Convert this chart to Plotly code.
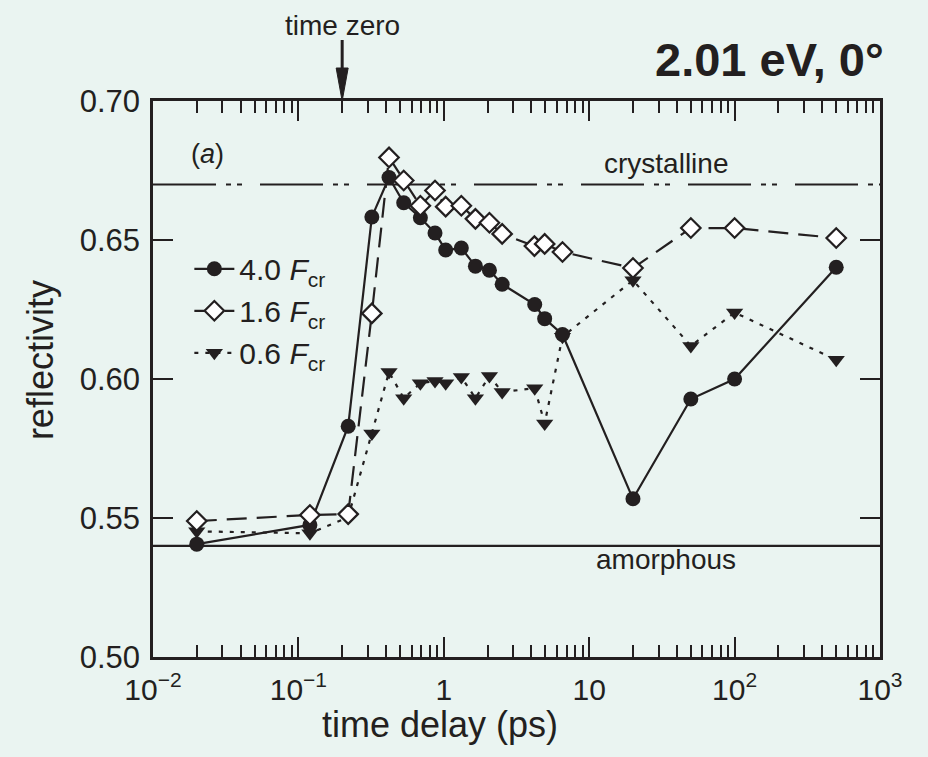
import math
import plotly.graph_objects as go

# ---------------- data ----------------
t_40 = [0.02, 0.12, 0.22, 0.32, 0.42, 0.53, 0.69, 0.87, 1.03, 1.32, 1.65, 2.06, 2.52, 4.22, 4.94, 6.55, 20, 50, 100, 500]
r_40 = [0.5406, 0.5475, 0.583, 0.6583, 0.6725, 0.6634, 0.658, 0.6525, 0.6464, 0.6471, 0.6406, 0.6391, 0.6341, 0.6268, 0.6217, 0.616, 0.5569, 0.5928, 0.600, 0.6402]

t_16 = [0.02, 0.12, 0.22, 0.32, 0.42, 0.53, 0.69, 0.87, 1.03, 1.32, 1.65, 2.06, 2.52, 4.2, 4.94, 6.55, 20, 50, 100, 500]
r_16 = [0.5489, 0.5511, 0.5514, 0.6236, 0.6797, 0.6714, 0.6623, 0.6678, 0.662, 0.6623, 0.6576, 0.6562, 0.6522, 0.6478, 0.6486, 0.6457, 0.6399, 0.6543, 0.6543, 0.6507]

t_06 = [0.02, 0.12, 0.22, 0.32, 0.42, 0.53, 0.69, 0.87, 1.03, 1.32, 1.65, 2.06, 2.52, 4.22, 4.94, 6.55, 20, 50, 100, 500]
r_06 = [0.5452, 0.5445, 0.5503, 0.5804, 0.6025, 0.5931, 0.5985, 0.5993, 0.5985, 0.6007, 0.5931, 0.6011, 0.5953, 0.5967, 0.584, 0.6152, 0.6355, 0.6119, 0.6239, 0.6069]

series_names = ["4.0 <i>F</i><sub>cr</sub>", "1.6 <i>F</i><sub>cr</sub>", "0.6 <i>F</i><sub>cr</sub>"]

R_CRYSTALLINE = 0.67
R_AMORPHOUS = 0.54
TIME_ZERO = 0.2

X_RANGE_LOG = [-2, 3]
x_tickvals = [0.01, 0.1, 1, 10, 100, 1000]
x_ticktext = ["10<sup>\u22122</sup>", "10<sup>\u22121</sup>", "1", "10", "10<sup>2</sup>", "10<sup>3</sup>"]
y_tickvals = [0.50, 0.55, 0.60, 0.65, 0.70]
y_ticktext = ["0.50", "0.55", "0.60", "0.65", "0.70"]

# ---------------- style ----------------
INK = "#231F20"
BG = "#EAF4F1"
FONT = "Liberation Sans, Arial, sans-serif"

fig = go.Figure()

# 0.6 Fcr (drawn first, bottom)
fig.add_trace(go.Scatter(
    x=t_06, y=r_06, name=series_names[2], mode="lines+markers",
    line=dict(color=INK, width=2.2, dash="4px,7px"),
    marker=dict(symbol="triangle-down", size=15, color=INK, line=dict(width=0)),
    legendrank=3, cliponaxis=False,
))
# 4.0 Fcr
fig.add_trace(go.Scatter(
    x=t_40, y=r_40, name=series_names[0], mode="lines+markers",
    line=dict(color=INK, width=2.2),
    marker=dict(symbol="circle", size=15, color=INK, line=dict(width=0)),
    legendrank=1, cliponaxis=False,
))
# 1.6 Fcr
fig.add_trace(go.Scatter(
    x=t_16, y=r_16, name=series_names[1], mode="lines+markers",
    line=dict(color=INK, width=2.2, dash="20px,10px"),
    marker=dict(symbol="diamond", size=15, color="white", line=dict(width=2.2, color=INK)),
    legendrank=2, cliponaxis=False,
))

# reference lines
fig.add_shape(type="line", xref="paper", x0=0, x1=1, yref="y", y0=R_CRYSTALLINE, y1=R_CRYSTALLINE,
              line=dict(color=INK, width=2, dash="63px,10px,5px,6px,5px,18px"), layer="below")
fig.add_shape(type="line", xref="paper", x0=0, x1=1, yref="y", y0=R_AMORPHOUS, y1=R_AMORPHOUS,
              line=dict(color=INK, width=2.2), layer="below")

# time zero arrow (paper x computed from the log axis range)
tz_paper = (math.log10(TIME_ZERO) - X_RANGE_LOG[0]) / (X_RANGE_LOG[1] - X_RANGE_LOG[0])
fig.add_shape(type="line", xref="paper", xsizemode="pixel", xanchor=tz_paper, x0=0, x1=0,
              yref="paper", ysizemode="pixel", yanchor=1, y0=30, y1=61,
              line=dict(color=INK, width=3))
fig.add_shape(type="path", xref="paper", xsizemode="pixel", xanchor=tz_paper,
              yref="paper", ysizemode="pixel", yanchor=1,
              path="M0,0 L-6,33 L6,33 Z", fillcolor=INK, line=dict(color=INK, width=1))

ann = []
ann.append(dict(text="time zero", xref="paper", x=tz_paper, yref="paper", y=1, yshift=76, showarrow=False,
                xanchor="center", yanchor="middle", font=dict(size=28, color=INK, family=FONT)))
ann.append(dict(text="<b>2.01 eV, 0\u00b0</b>", xref="paper", x=1, xshift=6, yref="paper", y=1, yshift=13,
                showarrow=False, xanchor="right", yanchor="bottom", font=dict(size=47, color=INK, family=FONT)))
ann.append(dict(text="(<i>a</i>)", xref="paper", x=0.05, yref="paper", y=0.904, showarrow=False,
                xanchor="left", yanchor="middle", font=dict(size=27, color=INK, family=FONT)))
ann.append(dict(text="crystalline", xref="paper", x=0.705, yref="y", y=R_CRYSTALLINE, yshift=3, showarrow=False,
                xanchor="center", yanchor="bottom", font=dict(size=28, color=INK, family=FONT)))
ann.append(dict(text="amorphous", xref="paper", x=0.705, yref="y", y=R_AMORPHOUS, yshift=4, showarrow=False,
                xanchor="center", yanchor="top", font=dict(size=28, color=INK, family=FONT)))
ann.append(dict(text="time delay (ps)", xref="paper", x=0.395, yref="paper", y=-0.122, showarrow=False,
                xanchor="center", yanchor="middle", font=dict(size=36, color=INK, family=FONT)))
ann.append(dict(text="reflectivity", xref="paper", x=-0.1554, yref="paper", y=0.534, showarrow=False,
                textangle=-90, xanchor="center", yanchor="middle", font=dict(size=36, color=INK, family=FONT)))

minor_vals = [m * 10 ** k for k in range(-2, 3) for m in range(2, 10)]

fig.update_layout(
    width=928, height=757,
    margin=dict(l=153, r=48, t=101, b=100),
    paper_bgcolor=BG, plot_bgcolor=BG,
    font=dict(family=FONT, color=INK, size=26),
    showlegend=True,
    legend=dict(x=0.05, y=0.745, xanchor="left", yanchor="top", bgcolor="rgba(0,0,0,0)",
                font=dict(size=30, color=INK, family=FONT), tracegroupgap=2, itemwidth=40),
    annotations=ann,
    xaxis=dict(
        type="log", range=X_RANGE_LOG, tickmode="array", tickvals=x_tickvals, ticktext=x_ticktext,
        ticks="inside", ticklen=20, tickwidth=2, tickcolor=INK, mirror="ticks",
        showline=True, linewidth=2.5, linecolor=INK, showgrid=False, zeroline=False,
        tickfont=dict(size=30, color=INK, family=FONT), ticklabelstandoff=4,
        minor=dict(tickmode="array", tickvals=minor_vals, ticks="inside", ticklen=12, tickwidth=2,
                   tickcolor=INK, showgrid=False),
    ),
    yaxis=dict(
        range=[0.50, 0.70], tickmode="array", tickvals=y_tickvals, ticktext=y_ticktext,
        ticks="inside", ticklen=20, tickwidth=2, tickcolor=INK, mirror="ticks",
        showline=True, linewidth=2.5, linecolor=INK, showgrid=False, zeroline=False,
        tickfont=dict(size=31, color=INK, family=FONT), ticklabelstandoff=4,
    ),
)

fig.write_html("out.html")
